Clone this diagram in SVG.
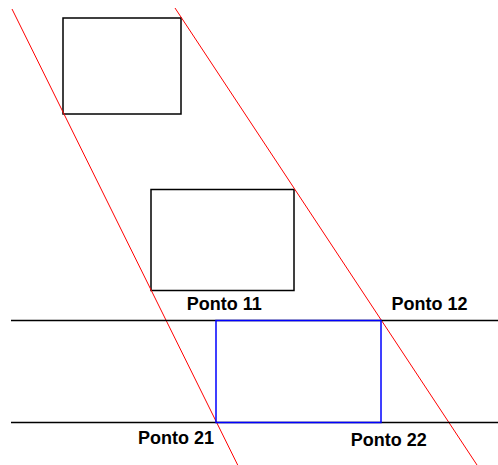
<svg xmlns="http://www.w3.org/2000/svg" width="498" height="465" viewBox="0 0 498 465">
<style>
.box{fill:none;stroke:#000;stroke-width:1.5}
.red{stroke:#ff0000;stroke-width:1;fill:none}
.hl{stroke:#000;stroke-width:1.5;fill:none}
.blue{stroke:#0000ff;stroke-width:1.5;fill:none}
.lbl{font-family:"Liberation Sans",Arial,sans-serif;font-weight:bold;font-size:18px;fill:#000}
</style>
<rect width="498" height="465" fill="#fff"/>
<g id="rect1"><rect class="box" x="63" y="18" width="118" height="96"/></g>
<g id="rect2"><rect class="box" x="151" y="189.5" width="143" height="101"/></g>
<g id="connectors">
<line class="red" x1="12" y1="9" x2="237.7" y2="465"/>
<line class="red" x1="175" y1="8" x2="477" y2="465"/>
<line class="hl" x1="11" y1="320.5" x2="498" y2="320.5"/>
<line class="hl" x1="11" y1="422.5" x2="498" y2="422.5"/>
</g>
<g id="blueRect"><rect class="blue" x="216" y="320.5" width="165" height="102"/></g>
<g id="labels">
<text class="lbl" x="186.7" y="310">Ponto 11</text>
<text class="lbl" x="391.4" y="309.5">Ponto 12</text>
<text class="lbl" x="138" y="443.7">Ponto 21</text>
<text class="lbl" x="350.7" y="445.7">Ponto 22</text>
</g>
</svg>
